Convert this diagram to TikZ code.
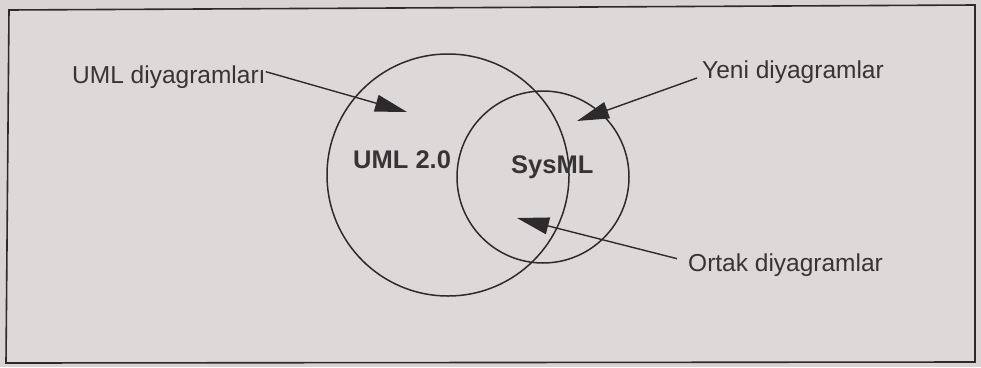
\documentclass[tikz,border=0pt]{standalone}
\usepackage{fontspec}
\setmainfont{Liberation Sans}
\usetikzlibrary{arrows.meta}

\definecolor{paper}{RGB}{216,212,211}
\definecolor{paperin}{RGB}{221,217,216}
\definecolor{ink}{RGB}{45,42,44}
\definecolor{inktext}{RGB}{55,52,54}

\tikzset{
  frameline/.style={draw=ink, line width=1.6pt},
  setline/.style={draw=ink, line width=1.5pt},
  label/.style={inner sep=0pt, anchor=base west, text=inktext,
    font=\fontsize{24.5}{28}\selectfont},
  setname/.style={inner sep=0pt, anchor=base west, text=inktext,
    font=\bfseries\fontsize{25.5}{29}\selectfont},
  pointer/.style={draw=ink, line width=1.4pt,
    -{Triangle[length=32pt, width=17pt]}},
}

\begin{document}
\begin{tikzpicture}[x=1pt, y=-1pt]
  % page and frame
  \useasboundingbox (0,0) rectangle (981,367);
  \fill[paper] (0,0) rectangle (981,367);
  \filldraw[fill=paperin, frameline] (9,10) -- (975,5) -- (975,362) -- (6,363) -- cycle;

  % the two sets
  \node[setline, circle, minimum size=242pt, inner sep=0pt] (uml) at (448,175) {};
  \node[setline, circle, minimum size=172pt, inner sep=0pt] (sysml) at (543,177) {};

  \node[setname] (umlname) at (353,168) {UML 2.0};
  \node[setname] (sysname) at (511,173) {SysML};

  % callouts
  \node[label] (umlL)  at (72,83)   {UML diyagramları};
  \node[label] (yeni)  at (702,78)  {Yeni diyagramlar};
  \node[label] (ortak) at (688,271) {Ortak diyagramlar};

  \coordinate (umlTip)   at (407,112);
  \coordinate (yeniTip)  at (577,121);
  \coordinate (ortakTip) at (517,218);

  \draw[pointer] ([yshift=5pt]umlL.east) -- (umlTip);
  \draw[pointer] ([xshift=-5pt]yeni.base west) -- (yeniTip);
  \draw[pointer] ([xshift=-11pt, yshift=6pt]ortak.west) -- (ortakTip);
\end{tikzpicture}
\end{document}
